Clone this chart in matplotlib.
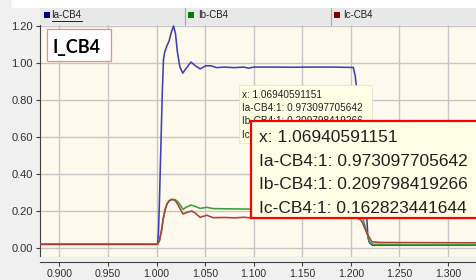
import matplotlib
matplotlib.use('Agg')
import matplotlib.pyplot as plt
from matplotlib.patches import Rectangle
from matplotlib.lines import Line2D
from matplotlib import font_manager as fm

W, H = 476, 280
names = {f.name for f in fm.fontManager.ttflist}
NARROW = 'Liberation Sans Narrow' in names
FN = 'Liberation Sans Narrow' if NARROW else 'Liberation Sans'
FR = 'Liberation Sans'


def sz(narrow_pt, reg_pt):
    return narrow_pt if NARROW else reg_pt


# ---------------- data ----------------
series_names = ['Ia-CB4', 'Ib-CB4', 'Ic-CB4']

ia_t = [0.880, 1.001, 1.002, 1.003, 1.004, 1.005, 1.006, 1.0072, 1.0085, 1.0105,
        1.013, 1.0155, 1.0175, 1.0195, 1.0215, 1.024, 1.027, 1.031, 1.0355, 1.040,
        1.045, 1.0505, 1.056, 1.062, 1.070, 1.080, 1.090, 1.095, 1.100, 1.120,
        1.140, 1.160, 1.180, 1.2025, 1.2045, 1.206, 1.210, 1.214, 1.2165, 1.2175,
        1.219, 1.222, 1.240, 1.260, 1.330]
ia_v = [0.020, 0.020, 0.080, 0.250, 0.450, 0.650, 0.850, 1.020, 1.060, 1.090,
        1.120, 1.170, 1.200, 1.160, 1.060, 0.980, 0.945, 0.975, 1.005, 0.985,
        0.968, 0.985, 0.985, 0.975, 0.978, 0.975, 0.978, 0.972, 0.978, 0.978,
        0.977, 0.978, 0.978, 0.976, 0.930, 0.860, 0.350, 0.200, 0.160, 0.060,
        0.030, 0.015, 0.015, 0.015, 0.015]

ib_t = [0.880, 1.001, 1.003, 1.005, 1.007, 1.009, 1.011, 1.013, 1.0155, 1.019,
        1.022, 1.025, 1.0273, 1.031, 1.0355, 1.040, 1.0448, 1.0517, 1.0582, 1.070,
        1.100, 1.150, 1.2085, 1.212, 1.2155, 1.2195, 1.223, 1.260, 1.330]
ib_v = [0.020, 0.020, 0.040, 0.090, 0.160, 0.210, 0.240, 0.255, 0.262, 0.262,
        0.250, 0.228, 0.209, 0.222, 0.232, 0.225, 0.214, 0.220, 0.213, 0.212,
        0.210, 0.210, 0.210, 0.170, 0.100, 0.030, 0.020, 0.018, 0.018]

ic_t = [0.880, 1.001, 1.003, 1.005, 1.007, 1.009, 1.011, 1.013, 1.0155, 1.019,
        1.022, 1.025, 1.0273, 1.031, 1.0363, 1.040, 1.0448, 1.0517, 1.0582, 1.070,
        1.080, 1.090, 1.100, 1.150, 1.207, 1.211, 1.2165, 1.2215, 1.230, 1.330]
ic_v = [0.020, 0.020, 0.040, 0.090, 0.160, 0.210, 0.240, 0.255, 0.263, 0.258,
        0.235, 0.205, 0.184, 0.192, 0.200, 0.188, 0.166, 0.177, 0.164, 0.165,
        0.163, 0.166, 0.162, 0.163, 0.163, 0.147, 0.080, 0.034, 0.030, 0.028]

x_ticks = [0.900, 0.950, 1.000, 1.050, 1.100, 1.150, 1.200, 1.250, 1.300]
x_tick_labels = ['0.900', '0.950', '1.000', '1.050', '1.100', '1.150', '1.200', '1.250', '1.300']
y_ticks = [0.0, 0.2, 0.4, 0.6, 0.8, 1.0, 1.2]
y_tick_labels = ['0.00', '0.20', '0.40', '0.60', '0.80', '1.00', '1.20']

title_text = 'I_CB4'
cursor_x = '1.06940591151'
cursor_vals = ['0.973097705642', '0.209798419266', '0.162823441644']

line_colors = ['#4040b2', '#38a238', '#aa4040']
legend_colors = ['#000080', '#008000', '#800000']

# ---------------- figure ----------------
fig = plt.figure(figsize=(W / 100, H / 100), dpi=100)
fig.patch.set_facecolor('#f0f0f0')


def fx(x):
    return x / W


def fy(y):
    return 1 - y / H


def rect(x0, y0, x1, y1, **kw):
    r = Rectangle((fx(x0), fy(y1)), fx(x1) - fx(x0), fy(y0) - fy(y1),
                  transform=fig.transFigure, **kw)
    fig.patches.append(r)
    return r


# top white strip and legend bar
rect(12, 0, W, 8, facecolor='white', edgecolor='none', zorder=1)
rect(40, 8, W, 25, facecolor='#e8e8e8', edgecolor='none', zorder=1)
for sx in (184.5, 330.5):
    fig.lines.append(Line2D([fx(sx), fx(sx)], [fy(8), fy(25)], transform=fig.transFigure,
                            color='#a8a8a8', lw=0.8, zorder=2))

# main plot
XMIN, XMAX = 0.8801, 1.3288
YMIN, YMAX = -0.0486, 1.2054
ax = fig.add_axes([fx(40), fy(257), fx(W) - fx(40), fy(25) - fy(257)])
ax.set_facecolor('#fdf9ec')
ax.set_xlim(XMIN, XMAX)
ax.set_ylim(YMIN, YMAX)
ax.set_xticks(x_ticks)
ax.set_yticks(y_ticks)
ax.set_yticklabels(y_tick_labels, fontfamily=FN, fontsize=sz(9, 8.0), color='#303030')
ax.tick_params(axis='x', length=0, labelbottom=False)
ax.tick_params(axis='y', length=3, width=0.8, color='#404040', pad=2)
ax.grid(True, color='#c6c6c6', lw=1.0)
ax.set_axisbelow(True)
for s in ('top', 'right'):
    ax.spines[s].set_visible(False)
ax.spines['left'].set_color('#404040')
ax.spines['left'].set_linewidth(0.8)
ax.spines['bottom'].set_color('#a8a8a8')
ax.spines['bottom'].set_linewidth(0.8)

ax.plot(ia_t, ia_v, color=line_colors[0], lw=1.15, zorder=3)
ax.plot(ib_t, ib_v, color=line_colors[1], lw=1.15, zorder=4)
ax.plot(ic_t, ic_v, color=line_colors[2], lw=1.15, zorder=5)

# bottom x-axis strip
axb = fig.add_axes([fx(40), fy(262), fx(W) - fx(40), fy(257) - fy(262)])
axb.set_facecolor('#f0f0f0')
axb.set_xlim(XMIN, XMAX)
axb.set_ylim(0, 1)
axb.set_yticks([])
axb.set_xticks(x_ticks)
axb.set_xticklabels(x_tick_labels, fontfamily=FN, fontsize=sz(8.8, 7.6), color='#303030')
axb.tick_params(axis='x', length=3, width=0.8, color='#404040', pad=1.8)
for s in ('top', 'right', 'left'):
    axb.spines[s].set_visible(False)
axb.spines['bottom'].set_color('#404040')
axb.spines['bottom'].set_linewidth(0.8)

# legend bar entries
leg_pos = [(43.5, 51.5), (188.3, 198.3), (333.7, 343.3)]
for (sqx, tx), name, c in zip(leg_pos, series_names, legend_colors):
    rect(sqx, 12.3, sqx + 6, 17.7, facecolor=c, edgecolor='none', zorder=3)
    fig.text(fx(tx), fy(15), name, fontfamily=FN, fontsize=sz(8.2, 7.0),
             color='#202020', va='center', ha='left', zorder=3)
fig.lines.append(Line2D([fx(51.5), fx(81.7)], [fy(21), fy(21)], transform=fig.transFigure,
                        color='#202020', lw=0.7, zorder=3))

# title box
rect(47, 29.3, 110.7, 60.7, facecolor='white', edgecolor='#f08a8a', lw=0.9, zorder=4)
fig.text(fx(52.5), fy(52.7), title_text, fontfamily='Lato', fontweight='bold',
         fontsize=13, color='black', va='baseline', ha='left', zorder=5)

# small tooltip (partly hidden behind the large one, as in the reference)
rect(239, 85, 371.5, 143, facecolor='#ffffe6', edgecolor='#e0e0d0', lw=0.5, zorder=5)
small_lines = ['x: ' + cursor_x] + [f'{n}:1: {v}' for n, v in zip(series_names, cursor_vals)]
for i, t in enumerate(small_lines):
    fig.text(fx(242), fy(97.5 + 13.5 * i), t, fontfamily=FR, fontsize=7.2,
             color='#202020', va='baseline', ha='left', zorder=6)

# big tooltip
rect(251, 121, W + 5, 218.3, facecolor='#ffffe6', edgecolor='#ff0000', lw=1.6, zorder=7)
big_baselines = [142.3, 166, 189.3, 212.7]
for t, b in zip(small_lines, big_baselines):
    fig.text(fx(259), fy(b), t, fontfamily=FN, fontsize=sz(15.3, 12.5),
             color='#202020', va='baseline', ha='left', zorder=8)

fig.savefig('out.png', dpi=100, facecolor=fig.get_facecolor())
